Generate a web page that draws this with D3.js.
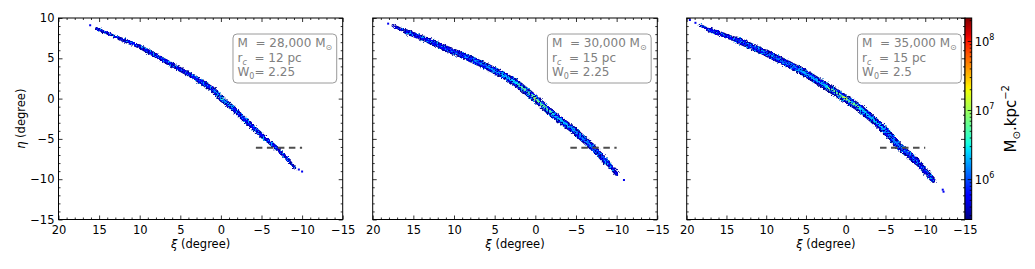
<!DOCTYPE html>
<html>
<head>
<meta charset="utf-8">
<script src="https://cdn.jsdelivr.net/npm/d3@7"></script>
<style>
  body { margin: 0; background: #fff; }
  svg { font-family: "DejaVu Sans", sans-serif; }
  text { white-space: pre; }
</style>
</head>
<body>
<div id="chart"></div>
<script>
// tick values
const xiTicks = [20, 15, 10, 5, 0, -5, -10, -15];
const etaTicks = [10, 5, 0, -5, -10, -15];
const densityTicks = [1e6, 1e7, 1e8];
const densityExponents = ["6", "7", "8"];

// model parameters shown in the boxes
const massLabels = ["28,000", "30,000", "35,000"];
const coreRadii = ["12", "15", "15"];
const w0Values = ["2.25", "2.25", "2.5"];

// stream track: [xi, eta, width (deg), log10 body density, log10 core density]
const track28 = [
  [15.3, 8.7, 0.25, 5.65, 5.7],
  [12.5, 7.45, 0.45, 5.7, 5.75],
  [10.0, 6.45, 0.5, 5.7, 5.75],
  [6.7, 4.58, 0.55, 5.7, 5.8],
  [3.4, 2.72, 0.6, 5.72, 5.8],
  [1.0, 1.15, 0.65, 5.75, 5.85],
  [-0.1, -0.05, 0.7, 5.8, 6.6],
  [-1.5, -1.2, 0.65, 5.75, 5.85],
  [-3.2, -2.87, 0.6, 5.72, 5.8],
  [-5.2, -4.73, 0.55, 5.7, 5.8],
  [-6.9, -6.17, 0.5, 5.7, 5.75],
  [-8.3, -7.62, 0.4, 5.65, 5.7],
  [-9.1, -8.6, 0.3, 5.6, 5.65]
];
const track30 = [
  [17.5, 9.05, 0.2, 5.65, 5.7],
  [15.9, 8.3, 0.55, 5.7, 5.75],
  [13.0, 7.15, 0.7, 5.72, 5.8],
  [10.5, 6.0, 0.75, 5.72, 5.85],
  [8.0, 4.95, 0.8, 5.75, 5.95],
  [6.0, 4.0, 0.8, 5.75, 6.1],
  [4.0, 2.95, 0.85, 5.78, 6.35],
  [2.3, 1.9, 0.85, 5.8, 6.45],
  [0.0, 0.0, 0.9, 5.85, 7.05],
  [-2.2, -2.0, 0.85, 5.8, 6.45],
  [-4.7, -3.9, 0.85, 5.78, 6.25],
  [-7.0, -6.0, 0.8, 5.75, 6.0],
  [-8.8, -7.9, 0.7, 5.72, 5.85],
  [-10.0, -9.3, 0.4, 5.65, 5.7]
];
const track35 = [
  [18.3, 9.1, 0.25, 5.65, 5.7],
  [17.1, 8.5, 0.45, 5.7, 5.75],
  [13.7, 7.3, 0.75, 5.72, 5.85],
  [9.9, 5.6, 0.85, 5.75, 5.95],
  [5.75, 3.55, 0.9, 5.78, 6.15],
  [2.4, 1.5, 0.95, 5.8, 6.45],
  [0.1, 0.04, 1.0, 5.85, 7.2],
  [-1.8, -1.2, 0.95, 5.8, 6.5],
  [-4.7, -3.7, 0.9, 5.78, 6.25],
  [-6.8, -6.0, 0.9, 5.75, 6.0],
  [-8.9, -7.8, 0.85, 5.72, 5.9],
  [-11.0, -10.1, 0.55, 5.65, 5.7]
];
// isolated bins: [xi, eta]
const strays28 = [[16.1, 9.1], [-9.6, -8.8], [-10.0, -9.05]];
const strays30 = [[18.1, 9.3], [-10.9, -10.1]];
const strays35 = [[19.6, 9.75], [18.9, 9.4], [-12.3, -11.55], [-12.2, -11.3]];
const edgeDensity = 5.45;

// dashed reference line
const dashXi = [-4, -10];
const dashEta = -6.1;

const tracks = [track28, track30, track35];
const strays = [strays28, strays30, strays35];

const width = 1035, height = 269;
const plotTop = 18, plotBottom = 219.5;
const frames = [
  {x0: 58.5, x1: 342.7},
  {x0: 372.7, x1: 657.3},
  {x0: 686.7, x1: 965}
];
const cbar = {x0: 965, x1: 971.7};

// matplotlib "jet"
const jetR = d3.scaleLinear().domain([0, 0.35, 0.66, 0.89, 1]).range([0, 0, 1, 1, 0.5]).clamp(true);
const jetG = d3.scaleLinear().domain([0, 0.125, 0.375, 0.64, 0.91, 1]).range([0, 0, 1, 1, 0, 0]).clamp(true);
const jetB = d3.scaleLinear().domain([0, 0.11, 0.34, 0.65, 1]).range([0.5, 1, 1, 0, 0]).clamp(true);
const jet = t => d3.rgb(jetR(t) * 255, jetG(t) * 255, jetB(t) * 255).formatHex();

const cNorm = d3.scaleLog().domain([2.6e5, 2.15e8]).range([0, 1]).clamp(true);
const colorLog = l => jet(cNorm(Math.pow(10, l)));

const svg = d3.select("#chart").append("svg")
    .attr("width", width)
    .attr("height", height);

// pixel texture of the binned map: rough edges, dark and light specks
const defs = svg.append("defs");
const rough = defs.append("filter").attr("id", "rough")
    .attr("x", "-10%").attr("y", "-10%").attr("width", "120%").attr("height", "120%");
rough.append("feTurbulence").attr("type", "fractalNoise").attr("baseFrequency", 0.6)
    .attr("numOctaves", 2).attr("seed", 4).attr("result", "noise");
rough.append("feDisplacementMap").attr("in", "SourceGraphic").attr("in2", "noise")
    .attr("scale", 3.5).attr("xChannelSelector", "R").attr("yChannelSelector", "G")
    .attr("result", "disp");
rough.append("feColorMatrix").attr("in", "noise").attr("type", "matrix")
    .attr("values", "0 0 0 0 0  0 0 0 0 0  0 0 0 0 0.3  14 0 0 0 -8")
    .attr("result", "darkMask");
rough.append("feComposite").attr("in", "darkMask").attr("in2", "disp")
    .attr("operator", "in").attr("result", "darkDots");
rough.append("feColorMatrix").attr("in", "noise").attr("type", "matrix")
    .attr("values", "0 0 0 0 0  0 0 0 0 0.35  0 0 0 0 1  0 0 14 0 -8.2")
    .attr("result", "lightMask");
rough.append("feComposite").attr("in", "lightMask").attr("in2", "disp")
    .attr("operator", "in").attr("result", "lightDots");
const merge = rough.append("feMerge");
merge.append("feMergeNode").attr("in", "disp");
merge.append("feMergeNode").attr("in", "lightDots");
merge.append("feMergeNode").attr("in", "darkDots");

function styleAxis(g, size) {
  g.select(".domain").remove();
  g.attr("font-family", null).attr("font-size", size);
  g.selectAll(".tick line").attr("stroke", "#000").attr("stroke-width", 0.8);
  g.selectAll(".tick text").attr("fill", "#000");
}

frames.forEach((f, i) => {
  const x = d3.scaleLinear().domain([20, -15]).range([f.x0, f.x1]);
  const y = d3.scaleLinear().domain([10, -15]).range([plotTop, plotBottom]);
  const ppd = Math.abs(x(0) - x(1));

  const panel = svg.append("g");
  defs.append("clipPath").attr("id", "clip" + i)
    .append("rect").attr("x", f.x0).attr("y", plotTop)
    .attr("width", f.x1 - f.x0).attr("height", plotBottom - plotTop);

  const stream = panel.append("g")
      .attr("clip-path", "url(#clip" + i + ")")
      .append("g")
      .attr("filter", "url(#rough)");

  const segs = d3.pairs(tracks[i]);
  const layers = [
    {frac: 1.0, col: (a, b) => colorLog(edgeDensity)},
    {frac: 0.72, col: (a, b) => colorLog((a[3] + b[3]) / 2)},
    {frac: 0.3, col: (a, b) => colorLog((a[4] + b[4]) / 2)}
  ];
  layers.forEach(L => {
    stream.append("g").selectAll("line")
      .data(segs)
      .join("line")
        .attr("x1", d => x(d[0][0]))
        .attr("y1", d => y(d[0][1]))
        .attr("x2", d => x(d[1][0]))
        .attr("y2", d => y(d[1][1]))
        .attr("stroke", d => L.col(d[0], d[1]))
        .attr("stroke-width", d => (d[0][2] + d[1][2]) / 2 * L.frac * ppd)
        .attr("stroke-linecap", "round");
  });
  stream.append("g").selectAll("circle")
    .data(tracks[i])
    .join("circle")
      .attr("cx", d => x(d[0]))
      .attr("cy", d => y(d[1]))
      .attr("r", d => d[2] * 0.42 * ppd / 2)
      .attr("fill", d => colorLog(d[4]));

  panel.append("g").selectAll("rect")
    .data(strays[i])
    .join("rect")
      .attr("x", d => x(d[0]) - 1)
      .attr("y", d => y(d[1]) - 1)
      .attr("width", 2)
      .attr("height", 2)
      .attr("fill", colorLog(5.7));

  // dashed line
  panel.append("line")
    .attr("x1", x(dashXi[0])).attr("x2", x(dashXi[1]))
    .attr("y1", y(dashEta)).attr("y2", y(dashEta))
    .attr("stroke", "#4d4d4d")
    .attr("stroke-width", 2)
    .attr("stroke-dasharray", "6.5,4.5")
    .attr("stroke-dashoffset", 8.5);

  // axes, ticks inside on all sides
  const minorXi = d3.range(-15, 21, 1).filter(v => v % 5 !== 0);
  const minorEta = d3.range(-15, 11, 1).filter(v => v % 5 !== 0);

  const bottom = panel.append("g").attr("transform", `translate(0,${plotBottom})`)
    .call(d3.axisBottom(x).tickValues(xiTicks).tickSize(-4).tickPadding(6));
  styleAxis(bottom, 11.5);
  const bottomMinor = panel.append("g").attr("transform", `translate(0,${plotBottom})`)
    .call(d3.axisBottom(x).tickValues(minorXi).tickSize(-2).tickFormat(""));
  styleAxis(bottomMinor, 11);
  const top = panel.append("g").attr("transform", `translate(0,${plotTop})`)
    .call(d3.axisTop(x).tickValues(xiTicks).tickSize(-4).tickFormat(""));
  styleAxis(top, 11);
  const topMinor = panel.append("g").attr("transform", `translate(0,${plotTop})`)
    .call(d3.axisTop(x).tickValues(minorXi).tickSize(-2).tickFormat(""));
  styleAxis(topMinor, 11);

  const left = panel.append("g").attr("transform", `translate(${f.x0},0)`)
    .call(d3.axisLeft(y).tickValues(etaTicks).tickSize(-4).tickPadding(4)
      .tickFormat(i === 0 ? d3.format("d") : ""));
  styleAxis(left, 11.5);
  const leftMinor = panel.append("g").attr("transform", `translate(${f.x0},0)`)
    .call(d3.axisLeft(y).tickValues(minorEta).tickSize(-2).tickFormat(""));
  styleAxis(leftMinor, 11);
  const right = panel.append("g").attr("transform", `translate(${f.x1},0)`)
    .call(d3.axisRight(y).tickValues(etaTicks).tickSize(-4).tickFormat(""));
  styleAxis(right, 11);
  const rightMinor = panel.append("g").attr("transform", `translate(${f.x1},0)`)
    .call(d3.axisRight(y).tickValues(minorEta).tickSize(-2).tickFormat(""));
  styleAxis(rightMinor, 11);

  panel.append("rect")
    .attr("x", f.x0).attr("y", plotTop)
    .attr("width", f.x1 - f.x0).attr("height", plotBottom - plotTop)
    .attr("fill", "none").attr("stroke", "#000").attr("stroke-width", 1);

  // x label
  const xl = panel.append("text")
    .attr("x", (f.x0 + f.x1) / 2).attr("y", 248)
    .attr("text-anchor", "middle").attr("font-size", 11.5);
  xl.append("tspan").attr("font-style", "italic").text("ξ");
  xl.append("tspan").text(" (degree)");

  if (i === 0) {
    const yl = panel.append("text")
      .attr("transform", `translate(25,${(plotTop + plotBottom) / 2}) rotate(-90)`)
      .attr("text-anchor", "middle").attr("font-size", 11.5);
    yl.append("tspan").attr("font-style", "italic").text("η");
    yl.append("tspan").text(" (degree)");
  }

  // parameter box
  const bx = f.x0 + 0.614 * (f.x1 - f.x0);
  const box = panel.append("g");
  const boxRect = box.append("rect");
  const tx = bx + 4.5;
  const t1 = box.append("text").attr("x", tx).attr("y", 47).attr("font-size", 12).attr("fill", "#808080");
  t1.append("tspan").text("M  = " + massLabels[i] + " M");
  t1.append("tspan").attr("font-size", 8).attr("dy", 3).text("⊙");
  const t2 = box.append("text").attr("x", tx).attr("y", 61.5).attr("font-size", 12).attr("fill", "#808080");
  t2.append("tspan").text("r");
  t2.append("tspan").attr("font-size", 8).attr("font-style", "italic").attr("dy", 3).text("c");
  t2.append("tspan").attr("dy", -3).text("  = " + coreRadii[i] + " pc");
  const t3 = box.append("text").attr("x", tx).attr("y", 76).attr("font-size", 12).attr("fill", "#808080");
  t3.append("tspan").text("W");
  t3.append("tspan").attr("font-size", 8).attr("dy", 3).text("0");
  t3.append("tspan").attr("dy", -3).text("= " + w0Values[i]);
  const tw = d3.max([t1, t2, t3], t => t.node().getBBox().width);
  boxRect.attr("x", bx).attr("y", 34)
    .attr("width", tw + 9).attr("height", 49)
    .attr("rx", 4).attr("ry", 4)
    .attr("fill", "#fff").attr("stroke", "#9a9a9a").attr("stroke-width", 1);
});

// colorbar
const cy = d3.scaleLog().domain([2.6e5, 2.15e8]).range([plotBottom, plotTop]);
const grad = defs.append("linearGradient").attr("id", "jetgrad")
    .attr("x1", 0).attr("y1", 1).attr("x2", 0).attr("y2", 0);
d3.range(0, 1.0001, 0.02).forEach(t => {
  grad.append("stop").attr("offset", t).attr("stop-color", jet(t));
});
svg.append("rect")
  .attr("x", cbar.x0).attr("y", plotTop)
  .attr("width", cbar.x1 - cbar.x0).attr("height", plotBottom - plotTop)
  .attr("fill", "url(#jetgrad)");

const minorDensity = [];
[1e5, 1e6, 1e7, 1e8].forEach(dec => {
  d3.range(2, 10).forEach(m => {
    const v = dec * m;
    if (v >= 2.6e5 && v <= 2.15e8) minorDensity.push(v);
  });
});
const cax = svg.append("g").attr("transform", `translate(${cbar.x1},0)`)
  .call(d3.axisRight(cy).tickValues(densityTicks).tickSize(-4).tickPadding(3).tickFormat(""));
styleAxis(cax, 11.5);
cax.selectAll(".tick text").each(function(d, k) {
  const t = d3.select(this).attr("dy", "0.4em");
  t.append("tspan").text("10");
  t.append("tspan").attr("font-size", 8).attr("dy", "-0.8em").text(densityExponents[k]);
});
const caxMinor = svg.append("g").attr("transform", `translate(${cbar.x1},0)`)
  .call(d3.axisRight(cy).tickValues(minorDensity).tickSize(-2).tickFormat(""));
styleAxis(caxMinor, 11);
svg.append("rect")
  .attr("x", cbar.x0).attr("y", plotTop)
  .attr("width", cbar.x1 - cbar.x0).attr("height", plotBottom - plotTop)
  .attr("fill", "none").attr("stroke", "#000").attr("stroke-width", 1);

const cl = svg.append("text")
  .attr("transform", `translate(1016,${(plotTop + plotBottom) / 2}) rotate(-90)`)
  .attr("text-anchor", "middle").attr("font-size", 15);
cl.append("tspan").text("M");
cl.append("tspan").attr("font-size", 10).attr("dy", 4).text("⊙");
cl.append("tspan").attr("dy", -4).text(".kpc");
cl.append("tspan").attr("font-size", 10).attr("dy", -7).text("−2");
</script>
</body>
</html>
